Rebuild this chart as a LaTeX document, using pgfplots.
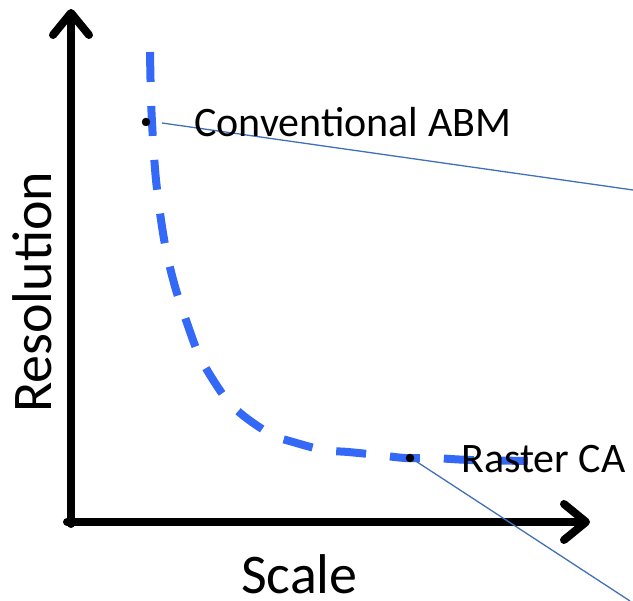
\documentclass[border=0pt]{standalone}
\usepackage{pgfplots}
\pgfplotsset{compat=1.18}
\usepackage{fontspec}
\setmainfont{Carlito}
\usetikzlibrary{arrows.meta}
\definecolor{dashblue}{RGB}{52,104,246}
\definecolor{thinblue}{RGB}{64,112,184}
\begin{document}
\begin{tikzpicture}
\begin{axis}[
  width=633pt, height=601pt, scale only axis,
  xmin=0, xmax=633, ymin=0, ymax=601,
  axis lines=none, ticks=none, clip=false,
]
\coordinate (SW) at (axis cs:0,0);
\coordinate (NE) at (axis cs:633,601);
% axes arrows
\addplot[black, line width=8pt, line cap=round, line join=round,
  -{Straight Barb[length=22pt,width=36pt,line cap=round,line join=round]}]
  coordinates {(71,77) (71,592)};
\addplot[black, line width=8pt, line cap=round,
  -{Straight Barb[length=22pt,width=36pt,line cap=round,line join=round]}]
  coordinates {(67,79) (590,79)};
% dashed curve (pixel y flipped: y' = 601 - y)
\addplot[dashblue, line width=8pt, smooth, line cap=butt, dash pattern=on 30pt off 24pt]
  coordinates {
  (150,549) (151,501) (153,461) (156,421) (161,381) (167,346) (176,311)
  (187,278) (198,248) (210,226) (227,201) (245,184) (272,166) (293,159)
  (323,151) (348,149) (378,146) (405,143) (433,143) (470,141) (530,140)
  };
% thin callout lines
\addplot[thinblue, line width=1.3pt] coordinates {(162,478) (633,411)};
\addplot[thinblue, line width=1.3pt] coordinates {(411,143) (630,0)};
% dots
\addplot[only marks, mark=*, mark size=4pt, black] coordinates {(146,479) (410,143)};
% texts
\node[anchor=base west, inner sep=0pt, font=\fontsize{42}{50}\selectfont] at (axis cs:194,464) {Conventional ABM};
\node[anchor=base west, inner sep=0pt, font=\fontsize{42}{50}\selectfont] at (axis cs:461,128) {Raster CA};
\node[anchor=base west, inner sep=0pt, rotate=90, font=\fontsize{56}{66}\selectfont] at (axis cs:52,188) {Resolution};
\node[anchor=base west, inner sep=0pt, text depth=0pt, font=\fontsize{56}{66}\selectfont] at (axis cs:241,7) {Scale};
\end{axis}
\pgfresetboundingbox
\path (SW) rectangle (NE);
\end{tikzpicture}
\end{document}
